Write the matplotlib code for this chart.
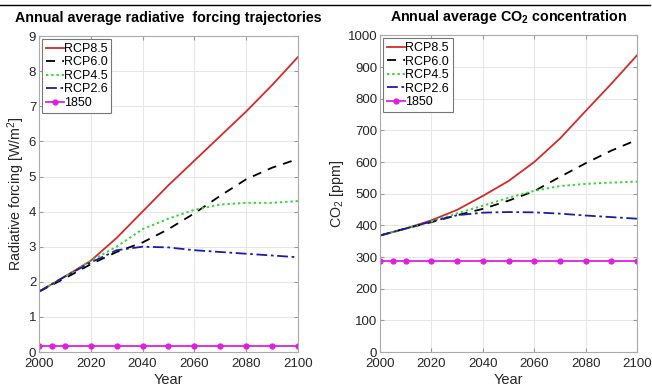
import matplotlib
matplotlib.use("Agg")
import matplotlib.pyplot as plt
from matplotlib.lines import Line2D

plt.rcParams['font.family'] = ['Liberation Sans', 'DejaVu Sans']
plt.rcParams['mathtext.default'] = 'regular'

years = [2000, 2010, 2020, 2030, 2040, 2050, 2060, 2070, 2080, 2090, 2100]
years_1850 = [2000, 2005, 2010, 2020, 2030, 2040, 2050, 2060, 2070, 2080, 2090, 2100]

# radiative forcing [W/m2]
rf_85 = [1.72, 2.15, 2.6, 3.25, 4.0, 4.75, 5.45, 6.15, 6.85, 7.6, 8.4]
rf_60 = [1.72, 2.1, 2.5, 2.85, 3.12, 3.5, 3.95, 4.45, 4.92, 5.25, 5.5]
rf_45 = [1.72, 2.15, 2.6, 3.0, 3.5, 3.8, 4.05, 4.2, 4.25, 4.25, 4.3]
rf_26 = [1.72, 2.15, 2.55, 2.9, 3.0, 2.98, 2.9, 2.85, 2.8, 2.75, 2.7]
rf_1850 = 0.18

# CO2 concentration [ppm]
co2_85 = [368, 390, 416, 449, 493, 540, 600, 674, 761, 847, 937]
co2_60 = [368, 390, 410, 432, 452, 478, 508, 553, 596, 636, 670]
co2_45 = [368, 390, 412, 438, 462, 487, 509, 524, 531, 535, 538]
co2_26 = [368, 390, 412, 432, 440, 442, 441, 437, 431, 426, 421]
co2_1850 = 287

labels = ['RCP8.5', 'RCP6.0', 'RCP4.5', 'RCP2.6', '1850']
styles = [
    dict(color='#d42a2a', ls='-', lw=1.3),
    dict(color='black', ls=(0, (5, 4)), lw=1.3),
    dict(color='#33d633', ls=(0, (1.2, 1.5)), lw=1.4),
    dict(color='#1c1ca8', ls=(0, (6, 2, 1.5, 2)), lw=1.3),
    dict(color='#e01ee0', ls='-', lw=1.3, marker='o', ms=3.5),
]

fig = plt.figure(figsize=(6.52, 3.9), dpi=100)
ax1 = fig.add_axes([0.0598, 0.0974, 0.397, 0.810])
ax2 = fig.add_axes([0.583, 0.0974, 0.394, 0.812])


def draw(ax, series, base, ymax, ystep, title, ylabel):
    for s, lab, st in zip(series, labels[:4], styles[:4]):
        ax.plot(years, s, label=lab, **st)
    ax.plot(years_1850, [base] * len(years_1850), label=labels[4], **styles[4])
    ax.set_xlim(2000, 2100)
    ax.set_ylim(0, ymax)
    ax.set_xticks(range(2000, 2101, 20))
    ax.set_yticks(range(0, ymax + 1, ystep))
    ax.grid(True, color='#e6e6e6', lw=0.7)
    ax.set_axisbelow(True)
    ax.tick_params(direction='in', top=True, right=True, labelsize=9.5,
                   color='#999999', length=3, pad=2, labelcolor='#262626')
    ax.tick_params(axis='x', pad=4.5)
    for sp in ax.spines.values():
        sp.set_color('#aaaaaa')
    ax.set_title(title, fontsize=10.3, fontweight='bold', pad=10)
    ax.set_xlabel('Year', fontsize=10.5, labelpad=2, color='#262626')
    ax.set_ylabel(ylabel, fontsize=10.3, labelpad=1, color='#262626')
    leg = ax.legend(loc='upper left', fontsize=9, handlelength=1.45,
                    handletextpad=0.0, borderpad=0.3, labelspacing=0.12,
                    borderaxespad=0.25, fancybox=False, framealpha=1)
    leg.get_frame().set_edgecolor('#777777')
    leg.get_frame().set_linewidth(0.8)


draw(ax1, [rf_85, rf_60, rf_45, rf_26], rf_1850, 9, 1,
     'Annual average radiative  forcing trajectories',
     'Radiative forcing [W/m$^2$]')
draw(ax2, [co2_85, co2_60, co2_45, co2_26], co2_1850, 1000, 100,
     'Annual average CO$_2$ concentration', 'CO$_2$ [ppm]')

fig.add_artist(Line2D([0, 0.997], [0.987, 0.987], color='black', lw=1.0,
                      transform=fig.transFigure))

fig.savefig('out.png', dpi=100)
